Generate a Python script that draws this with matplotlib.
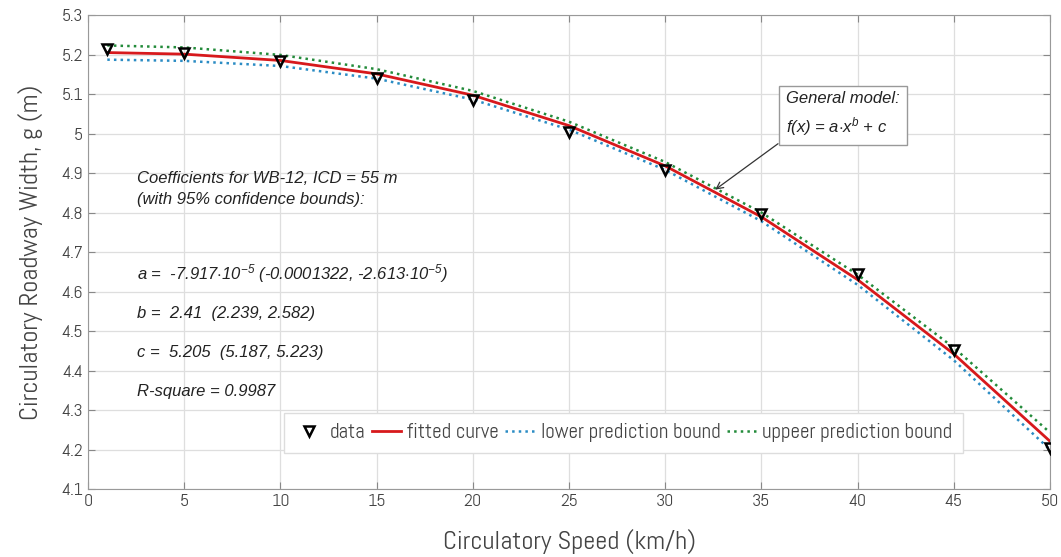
import numpy as np
import matplotlib
matplotlib.use('Agg')
import matplotlib.pyplot as plt
from matplotlib.ticker import FormatStrFormatter

# data
speed = [1, 5, 10, 15, 20, 25, 30, 35, 40, 45, 50]
width_data = [5.215, 5.204, 5.183, 5.140, 5.085, 5.004, 4.908, 4.796, 4.644, 4.452, 4.204]
fitted = [5.205, 5.201, 5.185, 5.151, 5.097, 5.020, 4.918, 4.789, 4.630, 4.442, 4.221]
lower_bound = [5.187, 5.184, 5.171, 5.139, 5.086, 5.010, 4.908, 4.778, 4.617, 4.426, 4.200]
upper_bound = [5.223, 5.218, 5.199, 5.163, 5.108, 5.030, 4.928, 4.800, 4.643, 4.458, 4.243]

x_ticks = list(range(0, 51, 5))
y_ticks = [4.1, 4.2, 4.3, 4.4, 4.5, 4.6, 4.7, 4.8, 4.9, 5.0, 5.1, 5.2, 5.3]

LABEL_FONT = ['Abel', 'DejaVu Sans']
NOTE_FONT = ['Liberation Sans', 'DejaVu Sans']
GRAY = '#444444'

plt.rcParams.update({
    'mathtext.fontset': 'custom',
    'mathtext.it': 'Liberation Sans:italic',
    'mathtext.rm': 'Liberation Sans:italic',
    'mathtext.default': 'it',
})

fig = plt.figure(figsize=(10.61, 5.57), dpi=100)
ax = fig.add_axes([0.083, 0.122, 0.9066, 0.851])

ax.plot(speed, fitted, color='#d7191c', lw=2, label='fitted curve', zorder=3)
ax.plot(speed, lower_bound, color='#2b8cc4', lw=1.8, ls=':', label='lower prediction bound', zorder=3)
ax.plot(speed, upper_bound, color='#238b3a', lw=1.8, ls=':', label='uppeer prediction bound', zorder=3)
ax.plot(speed, width_data, 'v', ms=7, mfc='none', mec='black', mew=1.8, label='data', zorder=4)

ax.set_xlim(0, 50)
ax.set_ylim(4.1, 5.3)
ax.set_xticks(x_ticks)
ax.set_yticks(y_ticks)
ax.yaxis.set_major_formatter(FormatStrFormatter('%g'))
ax.grid(True, color='#dedede', lw=0.9)
ax.set_axisbelow(True)
ax.tick_params(direction='in', top=True, right=True, length=5, color='#888888',
               labelcolor=GRAY, labelsize=13)
for lab in ax.get_xticklabels() + ax.get_yticklabels():
    lab.set_family(LABEL_FONT)
for sp in ax.spines.values():
    sp.set_color('#999999')

ax.set_xlabel('Circulatory Speed (km/h)', family=LABEL_FONT, fontsize=19, color=GRAY, labelpad=14)
ax.set_ylabel('Circulatory Roadway Width, g (m)', family=LABEL_FONT, fontsize=19, color=GRAY, labelpad=13)

# legend in the order of the reference
h, l = ax.get_legend_handles_labels()
order = [3, 0, 1, 2]
leg = ax.legend([h[i] for i in order], [l[i] for i in order], ncol=4, loc='lower right',
                bbox_to_anchor=(0.92, 0.055), prop={'family': LABEL_FONT, 'size': 15},
                fancybox=False, edgecolor='#dddddd', handlelength=1.4, handletextpad=0.3,
                columnspacing=0.3, borderpad=0.5, framealpha=1)
for t in leg.get_texts():
    t.set_color(GRAY)

# coefficient notes
notes = [
    (0.656, 'Coefficients for WB-12, ICD = 55 m'),
    (0.610, '(with 95% confidence bounds):'),
    (0.454, r'a =  -7.917$\cdot$10$^{-5}$ (-0.0001322, -2.613$\cdot$10$^{-5}$)'),
    (0.371, 'b =  2.41  (2.239, 2.582)'),
    (0.289, 'c =  5.205  (5.187, 5.223)'),
    (0.205, 'R-square = 0.9987'),
]
for yy, txt in notes:
    ax.text(0.051, yy, txt, transform=ax.transAxes, ha='left', va='center',
            family=NOTE_FONT, style='italic', fontsize=12, color='#222222')

ax.annotate('General model:\n' + r'f(x) = a$\cdot$x$^b$ + c', xy=(32.6, 4.858), xycoords='data',
            xytext=(0.7256, 0.79), textcoords='axes fraction', ha='left', va='center',
            family=NOTE_FONT, style='italic', fontsize=12, color='#222222', linespacing=1.5,
            bbox=dict(boxstyle='square,pad=0.45', facecolor='white', edgecolor='#999999', lw=1),
            arrowprops=dict(arrowstyle='->', color='#333333', lw=0.9, relpos=(0, 0),
                            shrinkA=0, shrinkB=0))

fig.savefig('out.png', dpi=100)
